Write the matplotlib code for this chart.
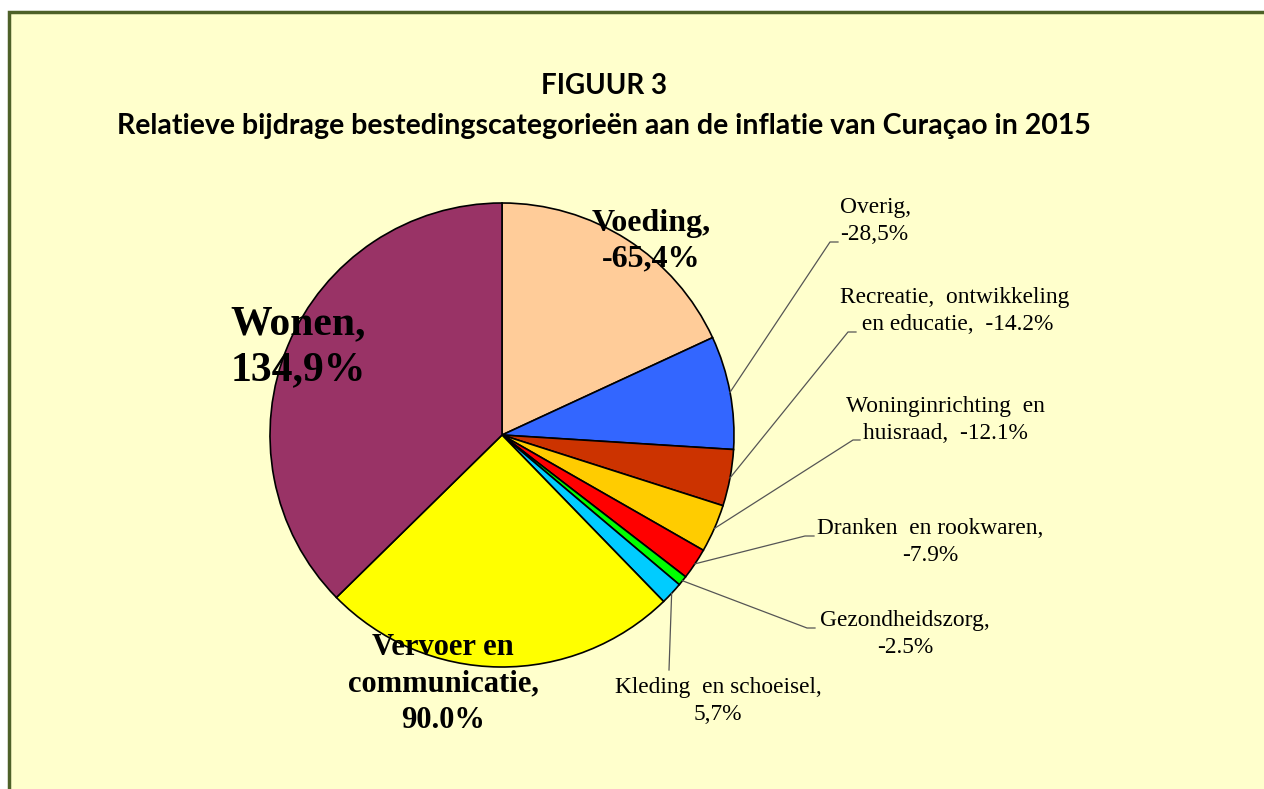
import matplotlib
matplotlib.use("Agg")
import matplotlib.pyplot as plt
import numpy as np
from matplotlib.patches import Rectangle

# Data (absolute contributions, clockwise from the top)
categories = ["Voeding", "Overig", "Recreatie, ontwikkeling en educatie",
              "Woninginrichting en huisraad", "Dranken en rookwaren",
              "Gezondheidszorg", "Kleding en schoeisel",
              "Vervoer en communicatie", "Wonen"]
values = [65.4, 28.5, 14.2, 12.1, 7.9, 2.5, 5.7, 90.0, 134.9]
colors = ["#FFCC99", "#3366FF", "#CC3300", "#FFCC00", "#FF0000",
          "#00FF00", "#00CCFF", "#FFFF00", "#993366"]
labels = ["Voeding,\n-65,4%", "Overig,\n-28,5%",
          "Recreatie,  ontwikkeling\n en educatie,  -14.2%",
          "Woninginrichting  en\nhuisraad,  -12.1%",
          "Dranken  en rookwaren,\n-7.9%", "Gezondheidszorg,\n-2.5%",
          "Kleding  en schoeisel,\n5,7%",
          "Vervoer en\ncommunicatie,\n90.0%", "Wonen,\n134,9%"]

W, H = 1264, 789
fig = plt.figure(figsize=(W / 100, H / 100), dpi=100)
fig.patch.set_facecolor("white")
ax = fig.add_axes([0, 0, 1, 1])
ax.set_xlim(0, W)
ax.set_ylim(0, H)
ax.set_aspect("equal")
ax.axis("off")

def Y(y):  # pixel row from top -> axis y
    return H - y

# background panel with border
ax.add_patch(Rectangle((9, -10), W + 20, Y(12) + 10, facecolor="#FFFFCC",
                       edgecolor="#4E6128", lw=2.5, zorder=0))

cx, cy, r = 502, Y(435), 232
wedges, _ = ax.pie(values, colors=colors, startangle=90, counterclock=False,
                   center=(cx, cy), radius=r,
                   wedgeprops=dict(edgecolor="black", linewidth=1.2))
ax.set_xlim(0, W)
ax.set_ylim(0, H)

serif = "Liberation Serif"
title_font = "Lato"
fig.text(604 / W, 1 - 86 / H, "FIGUUR 3", ha="center", va="center",
         fontsize=20, fontweight="bold", family=title_font)
fig.text(604 / W, 1 - 126 / H,
         "Relatieve bijdrage bestedingscategorieën aan de inflatie van Curaçao in 2015",
         ha="center", va="center", fontsize=20.5, fontweight="bold", family=title_font)

# big labels inside / near the pie
big = {0: (651, 241, 23, 1.3), 8: (298, 347, 30, 1.27), 7: (443, 684, 22, 1.35)}
for i, (x, y, fs, ls) in big.items():
    ax.text(x, Y(y), labels[i], ha="center", va="center", fontsize=fs,
            fontweight="bold", family=serif, linespacing=ls, zorder=5)

# small labels with leader lines: (text x, text y, ha, elbow x, elbow y, end x)
small = {
    1: (840, 221, "left", 830, 242, 838),
    2: (955, 311, "center", 848, 332, 856),
    3: (945, 420, "center", 853, 440, 860),
    4: (930, 542, "center", 805, 536, 814),
    5: (905, 634, "center", 807, 628, 815),
    6: (718, 701, "center", 669, 670, 669),
}
fs_small = 16.8
for i, (tx, ty, ha, ex, ey, endx) in small.items():
    w = wedges[i]
    mid = np.deg2rad((w.theta1 + w.theta2) / 2)
    sx, sy = cx + r * np.cos(mid), cy + r * np.sin(mid)
    ax.plot([sx, ex, endx], [sy, Y(ey), Y(ey)], color="#555555", lw=0.9, zorder=4)
    ax.text(tx, Y(ty), labels[i], ha=ha, va="center", fontsize=fs_small,
            family=serif, linespacing=1.33, multialignment="center" if ha == "center" else "left")

fig.savefig("out.png", dpi=100)
